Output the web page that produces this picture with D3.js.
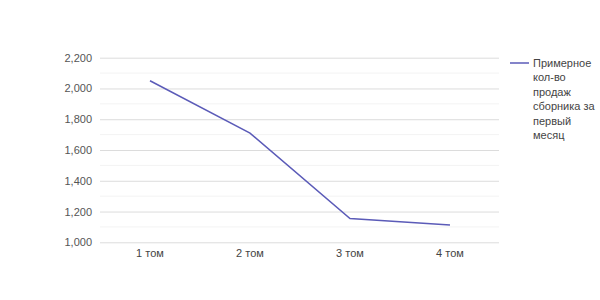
<!DOCTYPE html>
<html><head><meta charset="utf-8">
<script src="https://cdn.jsdelivr.net/npm/d3@7"></script>
<style>
body{margin:0;background:#fff;}
text{font-family:"Liberation Sans",Arial,sans-serif;}
</style>
</head><body>
<svg id="c" width="600" height="300"></svg>
<script>
const categories = ["1 том","2 том","3 том","4 том"];
const values = [2050, 1710, 1155, 1113];
const seriesName = "Примерное кол-во продаж сборника за первый месяц";
const legendLines = ["Примерное","кол-во","продаж","сборника за","первый","месяц"];
const yTicks = [1000,1200,1400,1600,1800,2000,2200];
const yMinor = [1100,1300,1500,1700,1900,2100];

const svg = d3.select("#c");
const x = d3.scaleBand().domain(categories).range([100,500]);
const y = d3.scaleLinear().domain([1000,2200]).range([242.3,57.7]);

svg.append("g").selectAll("line").data(yMinor).join("line")
  .attr("x1",100).attr("x2",499).attr("y1",d=>y(d)).attr("y2",d=>y(d))
  .attr("stroke","#f3f3f3").attr("stroke-width",1);

const yAxis = d3.axisLeft(y).tickValues(yTicks).tickSize(-399).tickPadding(8).tickFormat(d3.format(","));
const gy = svg.append("g").attr("transform","translate(100,0)").call(yAxis);
gy.select(".domain").remove();
gy.selectAll(".tick line").attr("stroke","#dcdcdc");
gy.selectAll(".tick text").attr("fill","#555").attr("font-size","11px");

const xAxis = d3.axisBottom(x).tickSize(0).tickPadding(7);
const gx = svg.append("g").attr("transform","translate(0,242.3)").call(xAxis);
gx.select(".domain").remove();
gx.selectAll(".tick text").attr("fill","#444").attr("font-size","11px");

const line = d3.line().x((d,i)=>x(categories[i])+x.bandwidth()/2).y(d=>y(d));
svg.append("path").datum(values).attr("d",line)
  .attr("fill","none").attr("stroke","#5b5bb8").attr("stroke-width",1.5);

const lg = svg.append("g");
lg.append("line").attr("x1",510).attr("x2",529).attr("y1",63).attr("y2",63)
  .attr("stroke","#5b5bb8").attr("stroke-width",1.5);
const t = lg.append("text").attr("x",533).attr("y",67).attr("font-size","11px").attr("fill","#444");
t.selectAll("tspan").data(legendLines).join("tspan")
  .attr("x",533).attr("dy",(d,i)=>i===0?0:14.4).text(d=>d);
</script>
</body></html>
